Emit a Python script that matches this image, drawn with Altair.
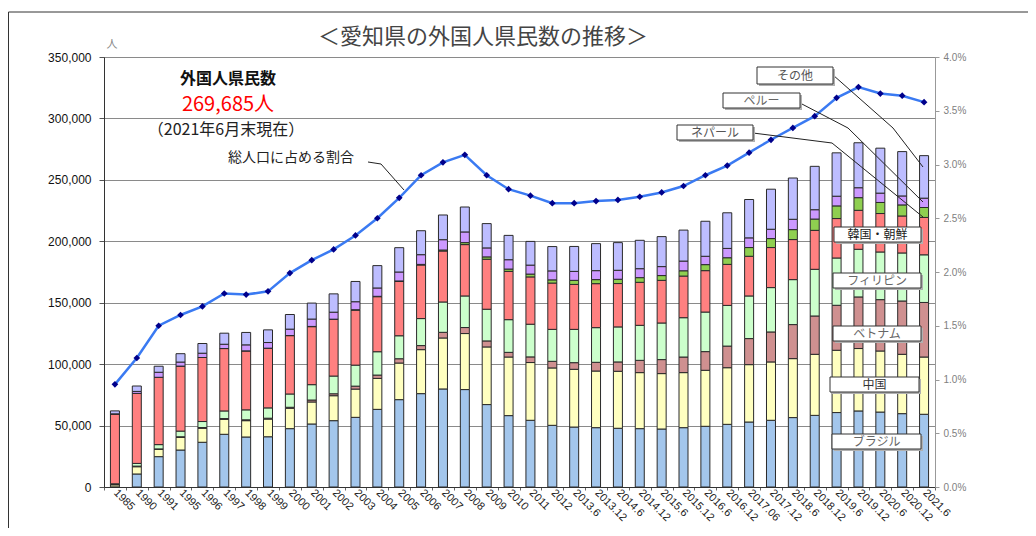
import altair as alt
import pandas as pd

# ---------------- data ----------------
categories = ["1985", "1990", "1991", "1995", "1996", "1997", "1998", "1999", "2000",
              "2001", "2002", "2003", "2004", "2005", "2006", "2007", "2008", "2009",
              "2010", "2011", "2012", "2013.6", "2013.12", "2014.6", "2014.12",
              "2015.6", "2015.12", "2016.6", "2016.12", "2017.06", "2017.12",
              "2018.6", "2018.12", "2019.6", "2019.12", "2020.6", "2020.12", "2021.6"]

series_names = ["ブラジル", "中国", "ベトナム", "フィリピン", "韓国・朝鮮", "ネパール", "ペルー", "その他"]

brazil = [100, 10600, 24700, 30100, 36400, 42900, 40700, 40900, 47500, 51300, 54000, 56700,
          63200, 71100, 76000, 79800, 79300, 67100, 58100, 54300, 50200, 48800, 48300, 47800,
          47500, 47200, 48300, 49400, 51000, 52900, 54300, 56500, 58300, 60600, 61900, 61000,
          59700, 59200]
china = [1700, 5900, 6000, 10300, 11400, 12200, 13300, 14400, 16600, 17900, 20300, 23000,
         25200, 29800, 35800, 41500, 45600, 46900, 47700, 47000, 46700, 47000, 46100, 46400,
         45600, 45100, 44800, 45600, 46100, 46700, 47500, 48000, 49700, 50700, 50800, 49700,
         48300, 46600]
vietnam = [200, 500, 300, 500, 600, 600, 700, 700, 800, 1600, 1600, 2400, 2700, 3500, 3300,
           4600, 4900, 4900, 3800, 4600, 5400, 5400, 7100, 7600, 10000, 11400, 12700, 15200,
           17600, 21200, 24400, 27700, 31200, 36600, 42000, 41800, 43400, 44400]
philippines = [600, 2200, 3500, 4600, 4900, 6200, 8100, 8400, 10800, 12500, 14400, 17100,
               19000, 18700, 22000, 24700, 25700, 25800, 26600, 26600, 26000, 27100, 28200,
               28500, 28500, 29800, 32000, 32200, 33100, 34700, 36100, 36600, 38000, 38500,
               38800, 38800, 39100, 38800]
korea = [56900, 57000, 54800, 52900, 52100, 50800, 48000, 48600, 47500, 47200, 46100, 44800,
         44800, 44200, 43600, 41500, 41800, 40700, 39300, 38500, 37700, 36600, 35800, 35300,
         35000, 34700, 33900, 33700, 33400, 32300, 32600, 32600, 31700, 32100, 31700, 31300,
         30100, 30400]
nepal = [0, 0, 0, 0, 0, 0, 0, 0, 100, 200, 200, 300, 300, 400, 500, 800, 1600, 1900, 1900,
         2300, 2600, 3300, 3300, 3500, 3800, 3900, 4300, 4900, 5400, 7100, 7300, 8100, 9200,
         10300, 10300, 9000, 9000, 8100]
peru = [50, 1600, 4100, 3300, 3500, 3500, 4900, 4600, 5200, 6000, 5700, 6500, 6800, 7300,
        7900, 8400, 8700, 7300, 7600, 7300, 7300, 7300, 7300, 7300, 7300, 7300, 7900, 6800,
        7600, 7900, 7600, 8400, 7600, 7900, 8100, 7600, 7300, 7600]
other = [2400, 4400, 4900, 6800, 7900, 9000, 10100, 10300, 11900, 13000, 14900, 16500, 18200,
         19800, 19500, 20100, 20300, 19800, 19800, 19300, 19800, 20300, 22000, 22500, 23100,
         24400, 25200, 28500, 29000, 31200, 32600, 33600, 35300, 35300, 36600, 36600, 36100,
         34600]

ratio_pct = [0.955, 1.20, 1.50, 1.60, 1.68, 1.80, 1.79, 1.82, 1.99, 2.11, 2.21, 2.34, 2.50,
             2.69, 2.90, 3.02, 3.09, 2.90, 2.77, 2.71, 2.64, 2.64, 2.66, 2.67, 2.70, 2.74,
             2.80, 2.90, 2.99, 3.11, 3.23, 3.34, 3.45, 3.62, 3.72, 3.66, 3.64, 3.58]

left_ticks = [0, 50000, 100000, 150000, 200000, 250000, 300000, 350000]
right_ticks = [0, 0.5, 1.0, 1.5, 2.0, 2.5, 3.0, 3.5, 4.0]

title_text = "＜愛知県の外国人県民数の推移＞"
unit_text = "人"
head_text = "外国人県民数"
total_text = "269,685人"
date_text = "（2021年6月末現在）"
ratio_label = "総人口に占める割合"

# ---------------- styles / layout ----------------
colors = ["#A3C6EC", "#FFFFC0", "#CF9090", "#CCFFCC", "#FF8080", "#8FCF50", "#CC99FF", "#BDBDFF"]
CJK = "Noto Sans CJK JP"
LAT = "Liberation Sans"
W, H = 831, 430

all_series = [brazil, china, vietnam, philippines, korea, nepal, peru, other]
rows = []
for j, (name, vals) in enumerate(zip(series_names, all_series)):
    for c, v in zip(categories, vals):
        rows.append({"cat": c, "series": name, "value": v, "ord": j})
df = pd.DataFrame(rows)
ratio_df = pd.DataFrame({"cat": categories, "ratio": ratio_pct})
one = pd.DataFrame({"k": [0]})

xenc = alt.X("cat:N", sort=categories,
             scale=alt.Scale(paddingInner=0, paddingOuter=0),
             axis=alt.Axis(title=None, labelAngle=45, labelAlign="left", labelBaseline="middle",
                           labelFontSize=11, labelFont=LAT, labelColor="#222", labelPadding=1,
                           labelOverlap=False, tickBand="extent", tickSize=3, tickColor="#666",
                           domainColor="#333", grid=False))

bars = alt.Chart(df).mark_bar(size=9, stroke="#2a2a2a", strokeWidth=1).encode(
    x=xenc,
    y=alt.Y("value:Q", stack="zero",
            scale=alt.Scale(domain=[0, 350000], nice=False),
            axis=alt.Axis(title=None, values=left_ticks,
                          labelExpr="format(datum.value, ',d')", labelFontSize=12,
                          labelFont=LAT, labelColor="#111", labelPadding=8, tickSize=5,
                          tickColor="#555", domainColor="#333", grid=True,
                          gridColor="#8a8a8a", gridWidth=1)),
    color=alt.Color("series:N", scale=alt.Scale(domain=series_names, range=colors), legend=None),
    order=alt.Order("ord:Q", sort="ascending"),
)

yr = alt.Y("ratio:Q", scale=alt.Scale(domain=[0, 4], nice=False),
           axis=alt.Axis(title=None, orient="right", values=right_ticks,
                         labelExpr="format(datum.value, '.1f') + '%'",
                         labelFontSize=10, labelFont=LAT, labelColor="#808080",
                         labelPadding=4, tickSize=4, tickColor="#999",
                         domainColor="#999", grid=False))

line = alt.Chart(ratio_df).mark_line(color="#3A7AF2", strokeWidth=2.5).encode(x=alt.X("cat:N", sort=categories), y=yr)
pts = alt.Chart(ratio_df).mark_point(shape="diamond", filled=True, color="#00008B", size=45, opacity=1).encode(
    x=alt.X("cat:N", sort=categories), y=alt.Y("ratio:Q", axis=None))


def txt(s, x, y, size, color, weight="normal", font=CJK):
    return alt.Chart(one).mark_text(text=s, fontSize=size, color=color, font=font,
                                    fontWeight=weight, align="center", baseline="middle").encode(
        x=alt.value(x), y=alt.value(y))


def seg(x1, y1, x2, y2, color="#222", w=1):
    return alt.Chart(one).mark_rule(color=color, strokeWidth=w).encode(
        x=alt.value(x1), x2=alt.value(x2), y=alt.value(y1), y2=alt.value(y2))


def box(x1, y1, x2, y2):
    shadow = alt.Chart(one).mark_rect(fill="#b0b0b0").encode(
        x=alt.value(x1 + 2), x2=alt.value(x2 + 2), y=alt.value(y1 + 2), y2=alt.value(y2 + 2))
    r = alt.Chart(one).mark_rect(fill="white", stroke="#333", strokeWidth=1).encode(
        x=alt.value(x1), x2=alt.value(x2), y=alt.value(y1), y2=alt.value(y2))
    return [shadow, r]


annots = []
# outer frame
annots.append(seg(-95.5, -45, 924, -45, "#333", 1))
annots.append(seg(-95.5, -45, -95.5, 471, "#333", 1))
# titles
annots.append(txt(title_text, 379, -20, 22, "#444"))
annots.append(txt(unit_text, 8, -12, 11, "#888"))
annots.append(txt(head_text, 124, 22, 16, "#111", "bold"))
annots.append(txt(total_text, 124, 47.5, 20, "#FF0000"))
annots.append(txt(date_text, 122, 73, 16, "#222"))
annots.append(txt(ratio_label, 187, 101, 14, "#222"))
annots += [seg(264, 105, 277, 107), seg(277, 107, 300, 133)]

# leader lines for top labels
leaders = [
    [(729, 18), (789, 71), (819, 110)],
    [(696, 46), (744, 71), (819, 145)],
    [(649, 76), (728, 86), (819, 160)],
]
for pl in leaders:
    for (a, b), (c, d) in zip(pl[:-1], pl[1:]):
        annots.append(seg(a, b, c, d))

boxes = [
    ("その他", 653, 10, 729, 27, "#555"),
    ("ペルー", 619, 36, 696, 51, "#666"),
    ("ネパール", 573, 68, 649, 83, "#555"),
    ("韓国・朝鮮", 730, 170, 817, 185, "#222"),
    ("フィリピン", 729, 216, 817, 231, "#666"),
    ("ベトナム", 729, 269, 817, 284, "#666"),
    ("中国", 726, 320, 815, 335, "#333"),
    ("ブラジル", 728, 377, 817, 392, "#666"),
]
for s, x1, y1, x2, y2, col in boxes:
    annots += box(x1, y1, x2, y2)
    annots.append(txt(s, (x1 + x2) / 2, (y1 + y2) / 2 + 0.5, 12, col))

chart = alt.layer(bars, line, pts, *annots).resolve_scale(y="independent").properties(
    width=W, height=H,
    padding={"left": 96, "top": 49, "right": 93, "bottom": 41},
    autosize=alt.AutoSizeParams(type="none"),
    background="white",
).configure_view(stroke="#8a8a8a", strokeWidth=1)

chart.save("out.html", embed_options={"renderer": "svg", "actions": False})
